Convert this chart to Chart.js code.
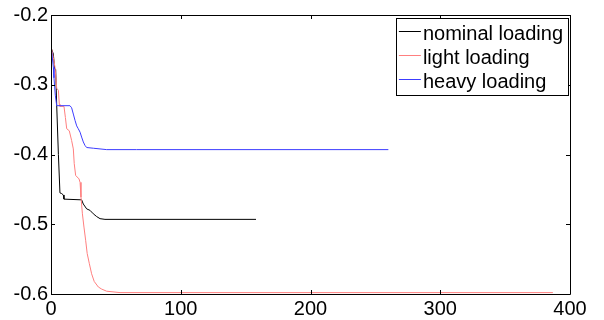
<!DOCTYPE html>
<html>
<head>
<meta charset="utf-8">
<script src="https://cdn.jsdelivr.net/npm/chart.js@4.4.1/dist/chart.umd.min.js"></script>
<style>
  html, body { margin: 0; padding: 0; background: #fff; }
  #wrap { width: 604px; height: 320px; position: relative; }
</style>
</head>
<body>
<div id="wrap"><canvas id="lossChart"></canvas></div>
<script>
// iteration vs objective for three loading cases
const nominalX = [0.5, 1.8, 2.8, 3.6, 4.4, 5.7, 6.9, 8.2, 9.5, 10, 23.6, 24.9, 27.5, 30, 32.6, 35.2, 37.8, 41.6, 158];
const nominalY = [-0.249, -0.256, -0.277, -0.278, -0.33, -0.40, -0.455, -0.456, -0.458, -0.464, -0.465, -0.471, -0.478, -0.480, -0.485, -0.489, -0.492, -0.493, -0.493];

const lightX = [0.5, 1.8, 3.1, 4.4, 5.7, 6.4, 6.9, 10, 11.1, 12.1, 14.1, 15.9, 17.2, 17.9, 19, 21.6, 22.4, 23.1, 24.2, 25.4, 26.7, 27.9, 29.5, 31.3, 33.3, 36.5, 39.1, 42.9, 53.2, 386.8];
const lightY = [-0.249, -0.261, -0.275, -0.305, -0.308, -0.328, -0.331, -0.331, -0.347, -0.363, -0.366, -0.380, -0.392, -0.413, -0.430, -0.435, -0.440, -0.461, -0.485, -0.504, -0.523, -0.542, -0.556, -0.571, -0.582, -0.590, -0.593, -0.596, -0.598, -0.598];

const heavyX = [0.5, 1.8, 2.3, 3.3, 4.4, 14.6, 15.9, 17.2, 18.5, 19.8, 21.0, 22.4, 23.6, 24.9, 26.2, 27.5, 32.6, 42.9, 66, 260];
const heavyY = [-0.252, -0.275, -0.290, -0.315, -0.330, -0.330, -0.333, -0.342, -0.351, -0.359, -0.363, -0.368, -0.375, -0.382, -0.387, -0.390, -0.391, -0.393, -0.393, -0.393];

const seriesNames = ['nominal loading', 'light loading', 'heavy loading'];
const seriesColors = ['#000000', '#ff7f7f', '#3c3cff'];

const xTicks = [0, 100, 200, 300, 400];
const yTicks = [-0.6, -0.5, -0.4, -0.3, -0.2];

const toPoints = (xs, ys) => xs.map((x, i) => ({ x: x, y: ys[i] }));

// box round the plot, inward ticks on every side, legend in the top right corner
const framePlugin = {
  id: 'frame',
  afterDraw(chart) {
    const { ctx, chartArea: a, scales } = chart;
    const xs = scales.x, ys = scales.y;
    const tl = 4;
    ctx.save();
    ctx.strokeStyle = '#000';
    ctx.lineWidth = 1;
    ctx.beginPath();
    ctx.rect(Math.round(a.left) + 0.5, Math.round(a.top) + 0.5,
             Math.round(a.right - a.left), Math.round(a.bottom - a.top));
    xTicks.forEach(v => {
      const px = Math.round(xs.getPixelForValue(v)) + 0.5;
      ctx.moveTo(px, a.bottom); ctx.lineTo(px, a.bottom - tl);
      ctx.moveTo(px, a.top); ctx.lineTo(px, a.top + tl);
    });
    yTicks.forEach(v => {
      const py = Math.round(ys.getPixelForValue(v)) + 0.5;
      ctx.moveTo(a.left, py); ctx.lineTo(a.left + tl, py);
      ctx.moveTo(a.right, py); ctx.lineTo(a.right - tl, py);
    });
    ctx.stroke();

    // legend
    ctx.font = '20px "Liberation Sans", Arial, sans-serif';
    const textW = Math.max(...seriesNames.map(s => ctx.measureText(s).width));
    const boxW = 27 + textW + 5;
    const boxR = Math.round(a.right) - 2;
    const boxL = boxR - boxW;
    const boxT = Math.round(a.top) + 3;
    const rowH = 24;
    const boxH = rowH * seriesNames.length + 5;
    ctx.fillStyle = '#fff';
    ctx.fillRect(boxL, boxT, boxW, boxH);
    ctx.strokeRect(Math.round(boxL) + 0.5, boxT + 0.5, Math.round(boxW), boxH);
    ctx.textBaseline = 'alphabetic';
    ctx.textAlign = 'left';
    chart.data.datasets.forEach((ds, i) => {
      const cy = boxT + 13 + i * rowH;
      ctx.strokeStyle = ds.borderColor;
      ctx.beginPath();
      ctx.moveTo(boxL + 3, cy + 0.5);
      ctx.lineTo(boxL + 25, cy + 0.5);
      ctx.stroke();
      ctx.fillStyle = '#000';
      ctx.fillText(ds.label, boxL + 27, cy + 9);
    });
    ctx.restore();
  }
};

new Chart(document.getElementById('lossChart'), {
  type: 'line',
  data: {
    datasets: [
      { label: seriesNames[0], data: toPoints(nominalX, nominalY), borderColor: seriesColors[0], order: 2 },
      { label: seriesNames[1], data: toPoints(lightX, lightY), borderColor: seriesColors[1], order: 1 },
      { label: seriesNames[2], data: toPoints(heavyX, heavyY), borderColor: seriesColors[2], order: 0 }
    ].map(d => Object.assign(d, { borderWidth: 1, pointRadius: 0, tension: 0, fill: false }))
  },
  options: {
    responsive: true,
    maintainAspectRatio: false,
    animation: false,
    layout: { padding: { top: 14, right: 34, left: 0, bottom: 0 } },
    plugins: {
      legend: { display: false },
      tooltip: { enabled: false }
    },
    scales: {
      x: {
        type: 'linear',
        min: 0,
        max: 400,
        grid: { display: false, drawTicks: false },
        border: { display: false },
        afterBuildTicks: s => { s.ticks = xTicks.map(v => ({ value: v })); },
        afterFit: s => { s.height = 26; },
        ticks: {
          color: '#000',
          padding: 3,
          maxRotation: 0,
          font: { family: '"Liberation Sans", Arial, sans-serif', size: 20 }
        }
      },
      y: {
        type: 'linear',
        min: -0.6,
        max: -0.2,
        grid: { display: false, drawTicks: false },
        border: { display: false },
        afterBuildTicks: s => { s.ticks = yTicks.map(v => ({ value: v })); },
        afterFit: s => { s.width = 51; },
        ticks: {
          color: '#000',
          padding: 3,
          font: { family: '"Liberation Sans", Arial, sans-serif', size: 20 },
          callback: v => v.toFixed(1)
        }
      }
    }
  },
  plugins: [framePlugin]
});
</script>
</body>
</html>
